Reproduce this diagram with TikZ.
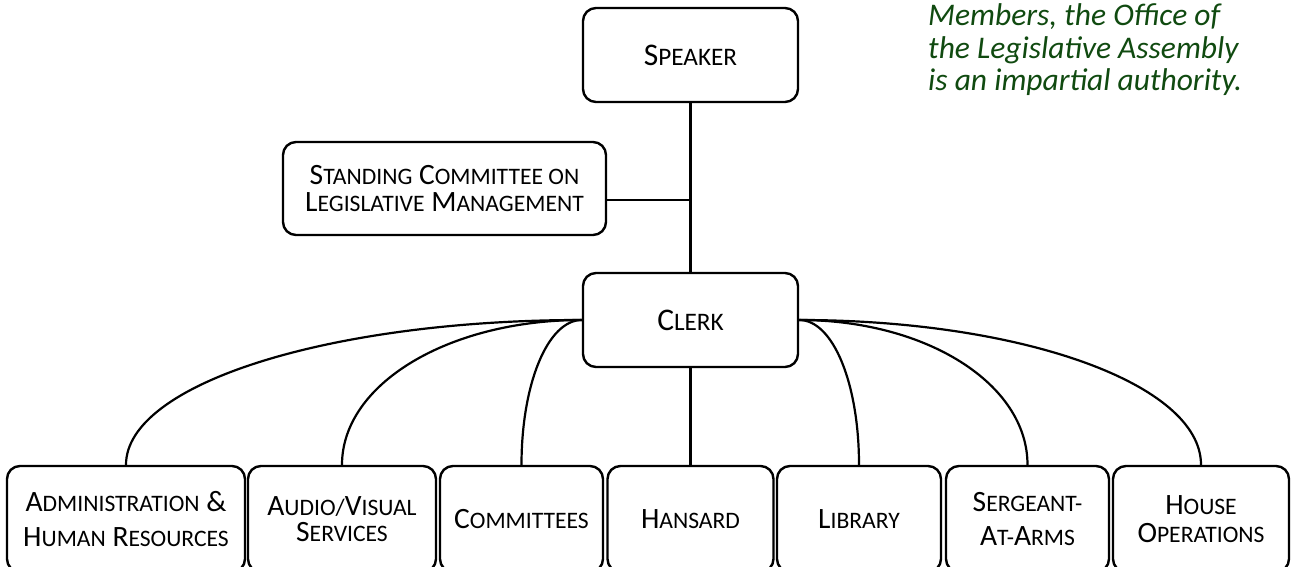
\documentclass[tikz,border=0pt]{standalone}
\usepackage{fontspec}
\setmainfont{Carlito}
\definecolor{notegreen}{RGB}{16,74,16}
\def\lcsz{20}\def\lcsk{24}
\newcommand\lc[1]{{\fontsize{\lcsz}{\lcsk}\selectfont #1}}
\tikzset{
  box/.style={draw, line width=2.4pt, rounded corners=13pt, inner sep=0pt, align=center, text=black, fill=white},
  bigtxt/.style={font=\fontsize{31.5}{36}\selectfont\def\lcsz{25.2}\def\lcsk{36}},
  midtxt/.style={font=\fontsize{29.5}{27}\selectfont\def\lcsz{23.6}\def\lcsk{27}},
  lowtxt/.style={font=\fontsize{29.5}{#1}\selectfont\def\lcsz{23.6}\def\lcsk{#1}},
  lowtxt/.default=35,
  topbox/.style={box, bigtxt, minimum width=215pt, minimum height=94pt},
  leaf/.style={box, minimum height=106pt},
  conn/.style={line width=2.2pt, black},
  notetxt/.style={text=notegreen, font=\itshape\fontsize{31.5}{32.5}\selectfont, align=left, inner sep=0pt}
}
\begin{document}
\begin{tikzpicture}[x=1pt,y=1pt]
\useasboundingbox (0,0) rectangle (1296,567);
% upper part
\node[topbox] (speaker) at (690.5,512) {S\lc{PEAKER}};
\node[box, midtxt, minimum width=323pt, minimum height=93pt] (standing) at (444.5,378.5)
  {S\lc{TANDING} C\lc{OMMITTEE ON}\\L\lc{EGISLATIVE} M\lc{ANAGEMENT}};
\coordinate (j) at (690.5,367);
\node[topbox] (clerk) at (690.5,247) {C\lc{LERK}};
% leaves
\node[leaf, lowtxt=35, minimum width=238pt] (admin) at (126,48) {A\lc{DMINISTRATION} \&\\H\lc{UMAN} R\lc{ESOURCES}};
\node[leaf, lowtxt=26, minimum width=188pt] (audio) at (342,48) {A\lc{UDIO/}V\lc{ISUAL}\\S\lc{ERVICES}};
\node[leaf, lowtxt, minimum width=163pt] (committees) at (521.5,48) {C\lc{OMMITTEES}};
\node[leaf, lowtxt, minimum width=166pt] (hansard) at (690.5,48) {H\lc{ANSARD}};
\node[leaf, lowtxt, minimum width=164pt] (library) at (859,48) {L\lc{IBRARY}};
\node[leaf, lowtxt=34, minimum width=163pt] (sergeant) at (1027.5,48) {S\lc{ERGEANT-}\\A\lc{T-}A\lc{RMS}};
\node[leaf, lowtxt=27.5, minimum width=176pt] (house) at (1201,48) {H\lc{OUSE}\\O\lc{PERATIONS}};
% connectors
\draw[conn] (speaker) -- (clerk);
\draw[conn] (standing.east |- j) -- (j);
\draw[conn] (clerk) -- (hansard);
\draw[conn] (clerk.west) .. controls +(-252,0) and +(0,81) .. (admin.north);
\draw[conn] (clerk.west) .. controls +(-133,0) and +(0,81) .. (audio.north);
\draw[conn] (clerk.west) .. controls +(-34,0) and +(0,81) .. (committees.north);
\draw[conn] (clerk.east) .. controls +(34,0) and +(0,81) .. (library.north);
\draw[conn] (clerk.east) .. controls +(127,0) and +(0,81) .. (sergeant.north);
\draw[conn] (clerk.east) .. controls +(222,0) and +(0,81) .. (house.north);
% note
\node[notetxt, anchor=north west] (note) at (928,563.5) {Members, the Office of\\the Legislative Assembly\\is an impartial authority.};
\end{tikzpicture}
\end{document}
